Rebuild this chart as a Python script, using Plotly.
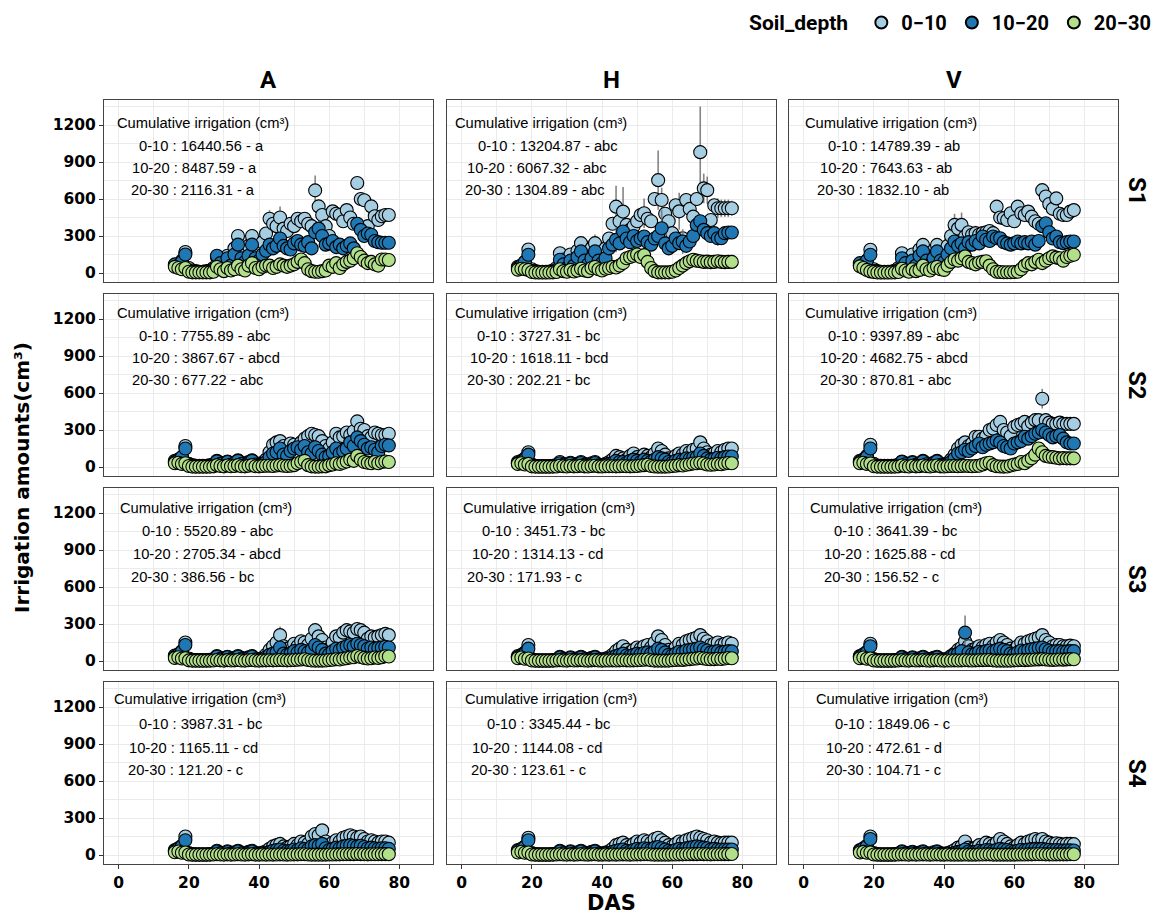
import plotly.graph_objects as go
from plotly.subplots import make_subplots

# Days after sowing (DAS) with irrigation records
days = list(range(16, 78))

depths = ["0−10", "10−20", "20−30"]
colors = ["#A6CEE3", "#1F78B4", "#B2DF8A"]
cols = ["A", "H", "V"]
rows = ["S1", "S2", "S3", "S4"]

# ---- daily irrigation amounts (cm3), days 16..77 ----
A_S1_d1 = [60,70,100,170, 40,20,15,10,10,15,20,40, 130,100,60,140,90,200,300,200,150,220,300,200,180,250,
           320,440,400,380,450,360,340,400,380,440,420,440,400,380,670,540,470,380,300,500,480,470,420,510,450,400,730,600,590,380,540,460,430,460,470,470]
A_S1_d2 = [70,60,90,150, 20,10,8,8,10,10,15,30, 140,80,40,120,60,150,230,120,90,140,230,120,100,150,
           180,230,200,220,280,220,200,190,240,260,230,220,250,200,330,360,300,230,240,260,210,230,200,220,240,200,400,350,300,320,310,260,250,245,245,245]
A_S1_d3 = [50,40,30,40, 10,5,5,5,5,5,5,10, 50,30,15,40,20,30,60,30,20,60,80,40,30,50,
           60,60,40,50,70,60,50,60,70,90,110,80,30,15,10,10,15,20,60,50,80,40,70,90,100,120,160,130,100,80,90,70,60,110,110,105]

H_S1_d1 = [50,60,90,190, 30,15,10,10,10,12,20,40, 160,110,70,150,100,180,242,160,120,200,242,150,130,200,
           280,400,538,420,498,390,350,380,420,470,484,440,420,600,753,592,480,420,323,550,500,282,592,520,457,600,980,686,672,430,550,525,525,525,525,525]
H_S1_d2 = [40,60,90,148, 15,8,6,6,6,8,12,25, 108,70,40,100,60,130,175,100,70,120,175,100,80,120,
           200,230,269,240,336,280,250,300,260,280,296,250,230,280,300,363,240,200,220,280,242,255,220,255,300,390,420,350,323,300,323,282,282,323,328,328]
H_S1_d3 = [27,35,30,25, 8,4,4,4,4,4,5,8, 30,15,10,25,12,20,35,20,15,40,50,30,20,35,
           40,50,45,60,80,120,130,140,150,130,145,90,40,15,5,5,5,5,10,20,40,60,80,95,108,100,95,90,92,88,90,95,90,88,90,90]

V_S1_d1 = [60,70,100,188, 30,15,10,10,10,12,20,40, 160,110,70,150,100,190,228,160,120,180,228,160,150,220,
           300,390,360,390,296,330,310,323,310,323,330,340,323,538,450,444,430,484,420,538,484,470,498,457,420,400,672,620,560,520,605,480,470,470,498,510]
V_S1_d2 = [80,70,100,148, 15,8,6,6,6,8,12,25, 120,80,40,100,60,140,175,100,70,120,175,100,90,150,
           200,255,220,240,200,250,230,260,240,296,270,260,296,282,282,250,240,230,240,255,240,250,240,255,230,260,380,403,330,280,296,250,242,250,255,255]
V_S1_d3 = [54,40,25,13, 8,4,4,4,4,4,5,8, 35,20,10,30,15,25,60,30,20,40,50,30,25,60,
           90,110,100,120,135,90,80,70,85,90,95,60,30,10,8,6,6,6,8,10,30,60,80,70,90,108,80,100,120,135,125,120,100,130,140,148]

A_S2_d1 = [50,60,80,170, 25,15,10,10,10,10,15,20, 50,35,25,45,30,35,55,35,25,40,55,30,25,35,
           60,120,180,200,210,170,150,190,180,160,200,230,250,270,260,250,210,170,150,200,270,240,250,280,260,290,370,310,300,250,240,280,270,260,260,270]
A_S2_d2 = [40,55,80,150, 15,8,5,5,5,5,10,15, 45,25,15,40,20,30,50,25,15,30,50,20,15,25,
           40,80,110,120,150,100,90,130,150,160,140,170,120,110,160,130,100,80,90,120,150,110,130,150,200,170,240,210,180,150,160,140,120,170,180,175]
A_S2_d3 = [30,35,25,30, 8,3,3,3,3,3,3,5, 15,8,5,12,6,8,15,6,5,10,15,6,5,8,
           10,10,8,12,15,10,8,10,15,30,40,50,15,5,3,3,5,5,15,20,30,25,35,45,60,50,90,60,40,35,30,40,30,40,45,40]

H_S2_d1 = [40,50,70,120, 20,10,8,8,8,8,10,15, 40,25,15,35,20,25,40,25,15,30,40,20,15,25,
           40,60,90,80,70,60,90,110,80,70,100,90,80,110,150,130,100,70,60,90,110,100,130,120,140,150,200,150,120,100,110,130,120,140,150,150]
H_S2_d2 = [30,45,60,100, 10,6,4,4,4,4,6,10, 30,18,10,28,14,20,32,18,10,22,32,14,10,18,
           25,30,50,40,40,35,50,60,50,40,60,50,45,60,80,70,60,40,35,50,60,55,70,65,75,80,110,90,70,60,65,75,70,80,85,85]
H_S2_d3 = [25,30,20,25, 5,3,3,3,3,3,3,4, 10,6,4,8,5,6,10,5,4,8,10,5,4,6,
           6,6,5,6,8,6,5,6,8,12,15,18,8,4,3,3,3,4,8,10,15,12,18,22,28,30,35,28,20,18,20,25,22,28,32,30]

V_S2_d1 = [50,60,90,180, 25,12,10,10,10,10,12,18, 45,30,20,40,25,30,50,30,20,35,50,25,20,30,
           60,100,150,180,200,170,190,245,245,230,250,300,312,340,366,300,280,250,325,340,350,366,330,360,380,380,554,380,360,350,350,360,350,350,350,350]
V_S2_d2 = [40,55,80,150, 12,6,5,5,5,5,8,12, 40,22,12,35,18,25,45,22,14,28,45,18,14,22,
           40,70,110,120,140,130,150,170,190,160,180,190,200,215,200,170,160,150,190,200,210,245,230,250,270,280,300,280,260,240,250,260,230,200,190,190]
V_S2_d3 = [30,35,25,28, 6,3,3,3,3,3,3,5, 12,6,4,10,5,7,12,6,4,8,12,5,4,6,
           8,8,6,8,10,8,6,8,10,20,30,35,15,6,4,3,4,12,20,25,40,30,50,70,100,150,120,90,83,80,75,70,72,70,70,70]

A_S3_d1 = [45,55,80,150, 20,10,8,8,8,8,10,15, 40,25,15,35,20,25,40,25,15,30,40,20,15,25,
           50,90,120,150,210,120,100,110,140,120,160,150,130,180,250,200,170,110,100,150,200,190,230,250,240,230,260,250,230,180,200,190,200,210,220,210]
A_S3_d2 = [35,50,75,130, 10,5,4,4,4,4,6,10, 35,18,10,30,15,20,35,18,10,25,35,14,10,18,
           30,50,60,70,110,60,50,60,80,70,90,80,70,90,130,110,90,60,55,80,100,90,110,120,130,120,140,130,120,100,110,100,105,110,115,110]
A_S3_d3 = [25,30,20,22, 5,3,3,3,3,3,3,4, 8,5,3,7,4,5,8,4,3,6,8,4,3,5,
           5,6,5,6,8,6,5,6,8,10,12,14,8,4,3,3,3,4,8,10,14,12,18,22,28,30,40,32,25,20,22,28,25,30,38,36]

H_S3_d1 = [40,50,70,130, 15,8,6,6,6,6,8,12, 35,20,12,30,18,22,35,20,12,25,35,18,12,20,
           30,50,80,100,120,90,70,90,110,100,120,130,110,150,200,170,130,90,80,110,140,130,160,170,180,190,210,180,160,130,140,150,130,140,150,140]
H_S3_d2 = [30,45,60,100, 8,4,3,3,3,3,5,8, 28,15,8,24,12,16,28,14,8,20,28,12,8,14,
           20,30,40,50,60,45,40,50,60,55,65,70,60,75,100,90,70,50,45,60,75,70,85,90,95,100,110,95,85,70,75,80,70,75,80,78]
H_S3_d3 = [22,28,18,20, 4,3,3,3,3,3,3,4, 7,4,3,6,4,5,7,4,3,5,7,4,3,4,
           4,5,4,5,6,5,4,5,6,8,10,12,6,3,3,3,3,3,6,8,10,9,12,15,18,20,25,20,16,14,15,18,16,20,24,22]

V_S3_d1 = [40,55,75,140, 15,8,6,6,6,6,8,12, 35,20,12,30,18,22,35,20,12,25,35,18,12,20,
           40,60,90,110,160,120,90,100,120,110,130,140,120,150,170,150,130,100,90,120,150,140,160,170,180,190,210,170,150,120,130,130,120,120,125,120]
V_S3_d2 = [35,50,70,120, 8,4,3,3,3,3,5,8, 28,15,8,24,12,16,28,14,8,20,28,12,8,14,
           30,50,60,80,230,70,55,60,75,70,80,85,75,90,100,90,80,60,55,70,85,80,90,95,100,105,110,95,85,75,80,80,75,78,80,80]
V_S3_d3 = [22,28,18,20, 4,3,3,3,3,3,3,4, 7,4,3,6,4,5,7,4,3,5,7,4,3,4,
           4,5,4,5,6,5,4,5,6,7,8,9,5,3,3,3,3,3,5,6,8,7,9,10,12,13,15,12,10,9,10,12,11,13,15,14]

A_S4_d1 = [40,55,75,150, 15,8,6,6,6,6,8,12, 35,20,12,30,18,22,35,20,12,25,35,18,12,20,
           30,50,70,80,90,70,60,70,90,80,110,100,90,150,170,160,200,110,80,100,120,110,140,150,160,150,140,150,130,110,120,110,100,110,110,100]
A_S4_d2 = [35,50,70,120, 8,4,3,3,3,3,5,8, 28,15,8,24,12,16,28,14,8,20,28,12,8,14,
           15,25,35,40,45,35,30,35,45,40,55,50,45,70,80,75,90,55,40,50,60,55,70,75,80,75,70,75,65,55,60,55,50,55,55,50]
A_S4_d3 = [22,28,18,20, 4,3,3,3,3,3,3,4, 6,4,3,5,3,4,6,4,3,5,6,3,3,4,
           3,4,3,4,5,4,3,4,5,5,6,6,4,3,3,3,3,3,4,4,5,5,6,6,7,7,8,7,6,5,6,6,6,7,7,7]

H_S4_d1 = [40,50,70,140, 15,8,6,6,6,6,8,12, 35,20,12,30,18,22,35,20,12,25,35,18,12,20,
           30,50,80,90,100,80,70,90,110,100,120,110,100,130,140,120,100,80,70,90,110,100,120,130,140,150,140,130,120,100,110,100,95,100,100,100]
H_S4_d2 = [35,45,65,120, 8,4,3,3,3,3,5,8, 28,15,8,24,12,16,28,14,8,20,28,12,8,14,
           15,25,35,40,45,35,30,40,50,45,55,50,45,60,65,55,45,35,30,40,50,45,55,60,65,70,65,60,55,45,50,45,45,45,45,45]
H_S4_d3 = [20,26,18,20, 4,3,3,3,3,3,3,4, 6,4,3,5,3,4,6,4,3,5,6,3,3,4,
           3,4,3,4,5,4,3,4,5,5,6,6,4,3,3,3,3,3,4,4,5,5,6,6,7,7,8,7,6,5,6,6,6,7,7,8]

V_S4_d1 = [40,55,75,150, 15,8,6,6,6,6,8,12, 30,18,10,26,15,20,30,16,10,22,30,15,10,16,
           25,40,60,70,110,60,50,60,80,70,100,90,80,100,130,110,90,70,60,80,100,90,110,120,130,120,130,110,100,90,95,90,85,90,90,88]
V_S4_d2 = [35,50,70,130, 8,4,3,3,3,3,5,8, 24,12,6,20,10,14,24,12,6,16,24,10,6,12,
           10,18,25,30,45,28,22,26,35,30,40,38,35,42,50,45,40,32,28,35,42,38,45,48,50,48,50,45,42,38,40,38,36,38,38,36]
V_S4_d3 = [20,25,18,20, 4,3,3,3,3,3,3,4, 5,4,3,5,3,4,5,4,3,4,5,3,3,4,
           3,3,3,3,4,3,3,3,4,4,5,5,3,3,3,3,3,3,3,4,4,4,5,5,6,6,6,5,5,4,5,5,5,5,6,6]

# standard errors large enough to show beyond the markers: {day: se}
se_A_S1_d1 = {34: 40, 38: 40, 43: 70, 46: 90, 53: 50, 56: 120, 68: 40}
se_A_S1_d2 = {57: 60}
se_H_S1_d1 = {33: 70, 38: 70, 44: 170, 46: 200, 52: 120, 56: 240, 57: 100, 60: 100,
              62: 150, 68: 370, 69: 120, 70: 110, 73: 80, 74: 70, 75: 70, 76: 70, 77: 60}
se_H_S1_d2 = {44: 100, 57: 150, 63: 100, 73: 60}
se_V_S1_d1 = {33: 40, 38: 40, 43: 90, 45: 100, 49: 60, 50: 60, 55: 40, 68: 40}
se_V_S2_d1 = {68: 80}
se_A_S3_d1 = {46: 70}
se_V_S3_d2 = {46: 140}
se_A_S4_d1 = {58: 50}

# cumulative irrigation summaries (cm3) with letter groups
cum_A = [["16440.56 - a", "8487.59 - a", "2116.31 - a"],
         ["7755.89 - abc", "3867.67 - abcd", "677.22 - abc"],
         ["5520.89 - abc", "2705.34 - abcd", "386.56 - bc"],
         ["3987.31 - bc", "1165.11 - cd", "121.20 - c"]]
cum_H = [["13204.87 - abc", "6067.32 - abc", "1304.89 - abc"],
         ["3727.31 - bc", "1618.11 - bcd", "202.21 - bc"],
         ["3451.73 - bc", "1314.13 - cd", "171.93 - c"],
         ["3345.44 - bc", "1144.08 - cd", "123.61 - c"]]
cum_V = [["14789.39 - ab", "7643.63 - ab", "1832.10 - ab"],
         ["9397.89 - abc", "4682.75 - abcd", "870.81 - abc"],
         ["3641.39 - bc", "1625.88 - cd", "156.52 - c"],
         ["1849.06 - c", "472.61 - d", "104.71 - c"]]

x_ticks = [0, 20, 40, 60, 80]
y_ticks = [0, 300, 600, 900, 1200]

# ---------------------------------------------------------------------------
W, H = 1156, 918
col_px = [(104, 433), (447, 776), (789, 1118)]
row_px = [(100, 282), (294, 476), (488, 670), (682, 864)]
X_RANGE = [-4.2, 89.6]
Y_RANGE = [-73, 1403]

series = {}
errors = {}
g = globals()
for c in cols:
    for r in rows:
        for k in range(3):
            name = f"{c}_{r}_d{k+1}"
            vals = g[name]
            assert len(vals) == len(days), name
            series[(c, r, k)] = vals
            errors[(c, r, k)] = g.get("se_" + name, {})

fig = make_subplots(rows=4, cols=3)

for ri, r in enumerate(rows):
    for ci, c in enumerate(cols):
        for k in range(3):
            vals = series[(c, r, k)]
            se = errors[(c, r, k)]
            err = [se.get(d, 0) for d in days]
            fig.add_trace(
                go.Scatter(
                    x=days, y=vals, mode="markers",
                    name=depths[k], legendgroup=depths[k],
                    showlegend=(ri == 0 and ci == 0),
                    marker=dict(size=13, color=colors[k],
                                line=dict(color="black", width=1.1)),
                    error_y=dict(type="data", array=err, visible=True,
                                 color="rgba(110,110,110,0.85)", thickness=1.6, width=0),
                    hoverinfo="x+y+name",
                ),
                row=ri + 1, col=ci + 1,
            )

tick_font = dict(family="DejaVu Sans", size=15.5, color="black", weight="bold")
for ri in range(4):
    for ci in range(3):
        idx = ri * 3 + ci + 1
        sfx = "" if idx == 1 else str(idx)
        x0, x1 = col_px[ci]
        y0, y1 = row_px[ri]
        bottom = ri == 3
        left = ci == 0
        fig.layout["xaxis" + sfx].update(
            domain=[x0 / W, x1 / W], range=X_RANGE, tickvals=x_ticks,
            showticklabels=bottom, ticks="outside" if bottom else "",
            ticklen=4, tickwidth=1.1, tickcolor="#333333", tickfont=tick_font,
            showgrid=True, gridcolor="#EBEBEB", gridwidth=1.1,
            minor=dict(tickvals=[10, 30, 50, 70], showgrid=True, gridcolor="#EBEBEB", gridwidth=0.6),
            showline=True, mirror=True, linecolor="#444444", linewidth=1,
            zeroline=False, fixedrange=True,
        )
        fig.layout["yaxis" + sfx].update(
            domain=[1 - y1 / H, 1 - y0 / H], range=Y_RANGE, tickvals=y_ticks,
            showticklabels=left, ticks="outside" if left else "",
            ticklen=4, tickwidth=1.1, tickcolor="#333333", tickfont=tick_font,
            showgrid=True, gridcolor="#EBEBEB", gridwidth=1.1,
            minor=dict(tickvals=[150, 450, 750, 1050, 1350], showgrid=True, gridcolor="#EBEBEB", gridwidth=0.6),
            showline=True, mirror=True, linecolor="#444444", linewidth=1,
            zeroline=False, fixedrange=True,
        )

annotations = []
text_font = dict(family="Liberation Sans, Arial", size=14.7, color="black")
cums = {"A": cum_A, "H": cum_H, "V": cum_V}
# left offsets (px from panel edge) for title and three lines, per row then column
title_off = [[11, 6, 14], [11, 6, 14], [14, 14, 19], [8, 16, 25]]
line_off = [[(33, 26, 25), (29, 18, 16), (37, 29, 26)],
            [(33, 26, 26), (28, 21, 18), (37, 29, 29)],
            [(36, 27, 25), (33, 23, 18), (43, 33, 33)],
            [(33, 23, 22), (38, 23, 22), (44, 35, 35)]]
line_dy = [(23, 46, 68, 90), (19, 42, 64, 86), (20, 43, 66, 89), (17, 42, 66, 88)]
for ri, r in enumerate(rows):
    for ci, c in enumerate(cols):
        px0 = col_px[ci][0]
        py0 = row_px[ri][0]
        dy = line_dy[ri]
        annotations.append(dict(
            x=(px0 + title_off[ri][ci]) / W, y=1 - (py0 + dy[0]) / H,
            xref="paper", yref="paper", xanchor="left", yanchor="middle",
            text="Cumulative irrigation (cm³)", showarrow=False, font=text_font))
        labels = ["0-10", "10-20", "20-30"]
        for k in range(3):
            annotations.append(dict(
                x=(px0 + line_off[ri][ci][k]) / W, y=1 - (py0 + dy[k + 1]) / H,
                xref="paper", yref="paper", xanchor="left", yanchor="middle",
                text=f"{labels[k]} : {cums[c][ri][k]}", showarrow=False, font=text_font))

strip_font = dict(family="Roboto, Liberation Sans, Arial", size=24, color="black", weight="bold")
for ci, c in enumerate(cols):
    x0, x1 = col_px[ci]
    annotations.append(dict(x=(x0 + x1) / 2 / W, y=1 - 80 / H, xref="paper", yref="paper",
                            text=c, showarrow=False, font=strip_font, xanchor="center", yanchor="middle"))
for ri, r in enumerate(rows):
    y0, y1 = row_px[ri]
    annotations.append(dict(x=1137 / W, y=1 - (y0 + y1) / 2 / H, xref="paper", yref="paper",
                            text=r, showarrow=False, font=strip_font, textangle=90,
                            xanchor="center", yanchor="middle"))

title_font = dict(family="DejaVu Sans", size=20, color="black", weight="bold")
annotations.append(dict(x=611 / W, y=1 - 903 / H, xref="paper", yref="paper", text="DAS",
                        showarrow=False, font=dict(title_font, size=21), xanchor="center", yanchor="middle"))
annotations.append(dict(x=22 / W, y=1 - 478 / H, xref="paper", yref="paper",
                        text="Irrigation amounts(cm³)", showarrow=False, font=title_font,
                        textangle=-90, xanchor="center", yanchor="middle"))

legend_font = "Roboto, Liberation Sans, Arial"
fig.update_layout(
    width=W, height=H,
    margin=dict(l=0, r=0, t=0, b=0),
    paper_bgcolor="white", plot_bgcolor="white",
    annotations=annotations,
    showlegend=True,
    legend=dict(
        orientation="h", x=1.0, xanchor="right", y=1 - 3 / H, yanchor="top",
        title=dict(text="<b>Soil_depth</b> ", font=dict(family=legend_font, size=21, color="black")),
        font=dict(family=legend_font, size=20, color="black", weight="bold"),
        itemsizing="constant", bgcolor="rgba(0,0,0,0)", tracegroupgap=0,
    ),
)

fig.write_html("out.html")
